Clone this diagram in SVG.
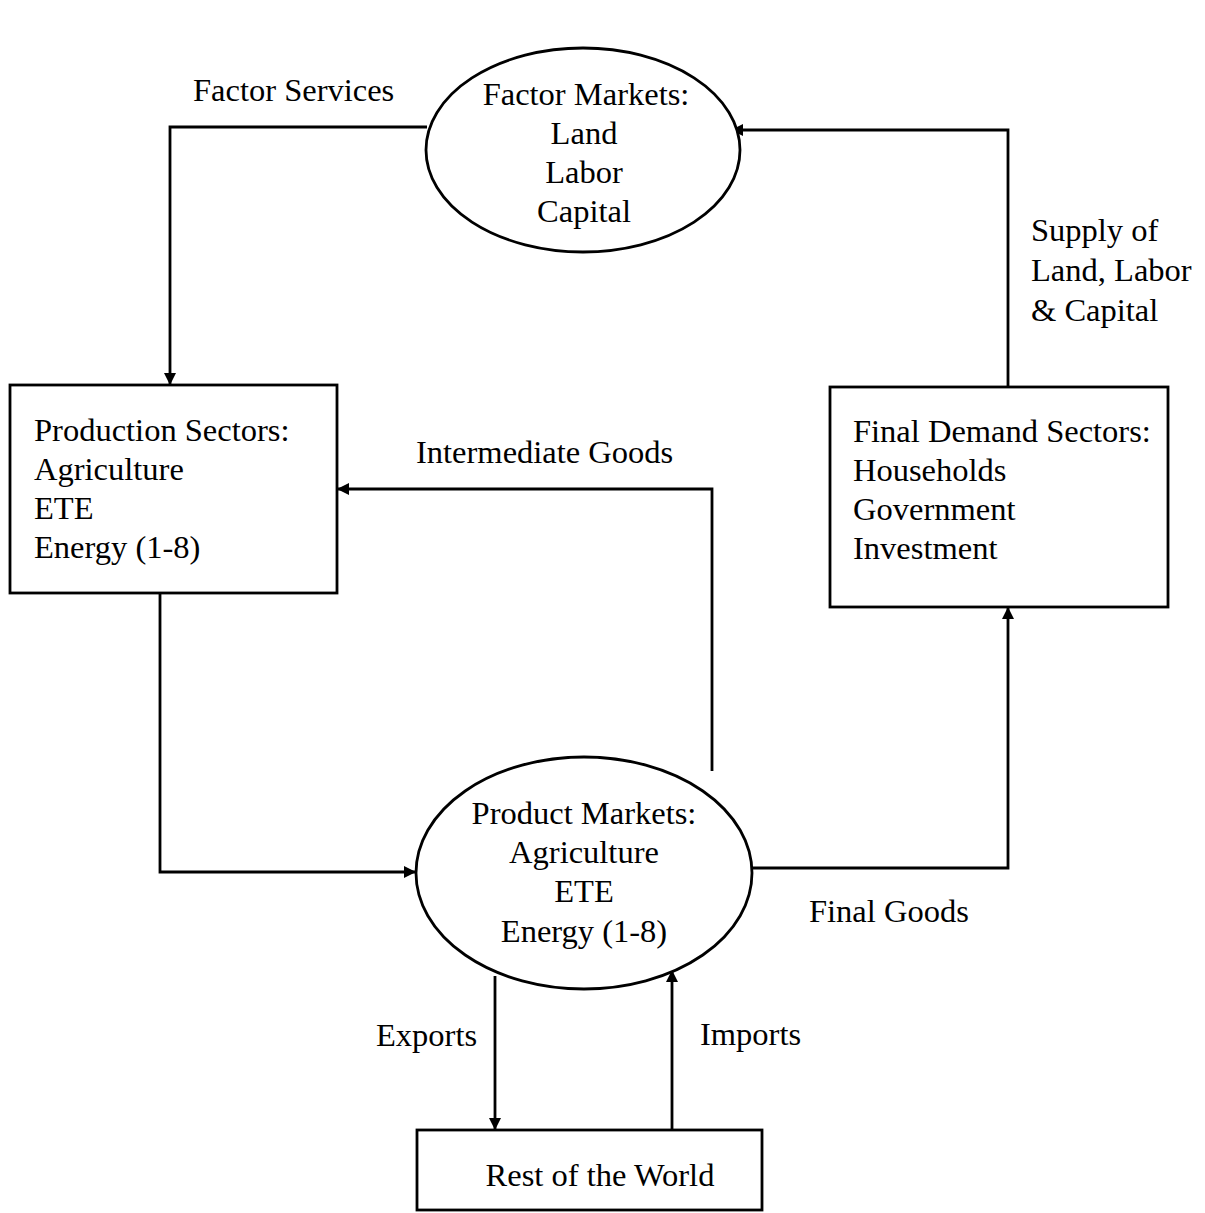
<svg xmlns="http://www.w3.org/2000/svg" width="1205" height="1213" viewBox="0 0 1205 1213">
<defs>
<marker id="ah" viewBox="0 0 10 10" refX="10" refY="5" markerWidth="14" markerHeight="12" markerUnits="userSpaceOnUse" orient="auto">
<path d="M0,0 L10,5 L0,10 Z" fill="#000"/>
</marker>
<style>
.shape{fill:#fff;stroke:#000;stroke-width:2.8}
.conn{fill:none;stroke:#000;stroke-width:2.8;marker-end:url(#ah)}
text{font-family:"Liberation Serif","Times New Roman",serif;font-size:32.5px;fill:#000}
.c{text-anchor:middle}
</style>
</defs>
<rect width="1205" height="1213" fill="#fff"/>
<g id="connectors">
<path class="conn" d="M427,127 H170 V385"/>
<path class="conn" d="M1008,387 V130 H731"/>
<path class="conn" d="M712,771 V489 H337"/>
<path class="conn" d="M160,593 V872 H416"/>
<path class="conn" d="M752,868 H1008 V607"/>
<path class="conn" d="M495,976 V1130"/>
<path class="conn" d="M672,1130 V970"/>
</g>
<g id="factor-markets">
<ellipse class="shape" cx="583" cy="150" rx="157" ry="102"/>
<text class="c" x="586" y="105">Factor Markets:</text>
<text class="c" x="584" y="144">Land</text>
<text class="c" x="584" y="183">Labor</text>
<text class="c" x="584" y="222">Capital</text>
</g>
<g id="production-sectors">
<rect class="shape" x="10" y="385" width="327" height="208"/>
<text x="34" y="441">Production Sectors:</text>
<text x="34" y="480">Agriculture</text>
<text x="34" y="519">ETE</text>
<text x="34" y="558">Energy (1-8)</text>
</g>
<g id="final-demand">
<rect class="shape" x="830" y="387" width="338" height="220"/>
<text x="853" y="442">Final Demand Sectors:</text>
<text x="853" y="481">Households</text>
<text x="853" y="520">Government</text>
<text x="853" y="559">Investment</text>
</g>
<g id="product-markets">
<ellipse class="shape" cx="584" cy="873" rx="168" ry="116"/>
<text class="c" x="584" y="824">Product Markets:</text>
<text class="c" x="584" y="863">Agriculture</text>
<text class="c" x="584" y="902">ETE</text>
<text class="c" x="584" y="942">Energy (1-8)</text>
</g>
<g id="rest-of-world">
<rect class="shape" x="417" y="1130" width="345" height="80"/>
<text class="c" x="600" y="1186">Rest of the World</text>
</g>
<g id="labels">
<text x="193" y="101">Factor Services</text>
<text x="1031" y="241">Supply of</text>
<text x="1031" y="281">Land, Labor</text>
<text x="1031" y="321">&amp; Capital</text>
<text x="416" y="463">Intermediate Goods</text>
<text x="809" y="922">Final Goods</text>
<text x="376" y="1046">Exports</text>
<text x="700" y="1045">Imports</text>
</g>
</svg>
